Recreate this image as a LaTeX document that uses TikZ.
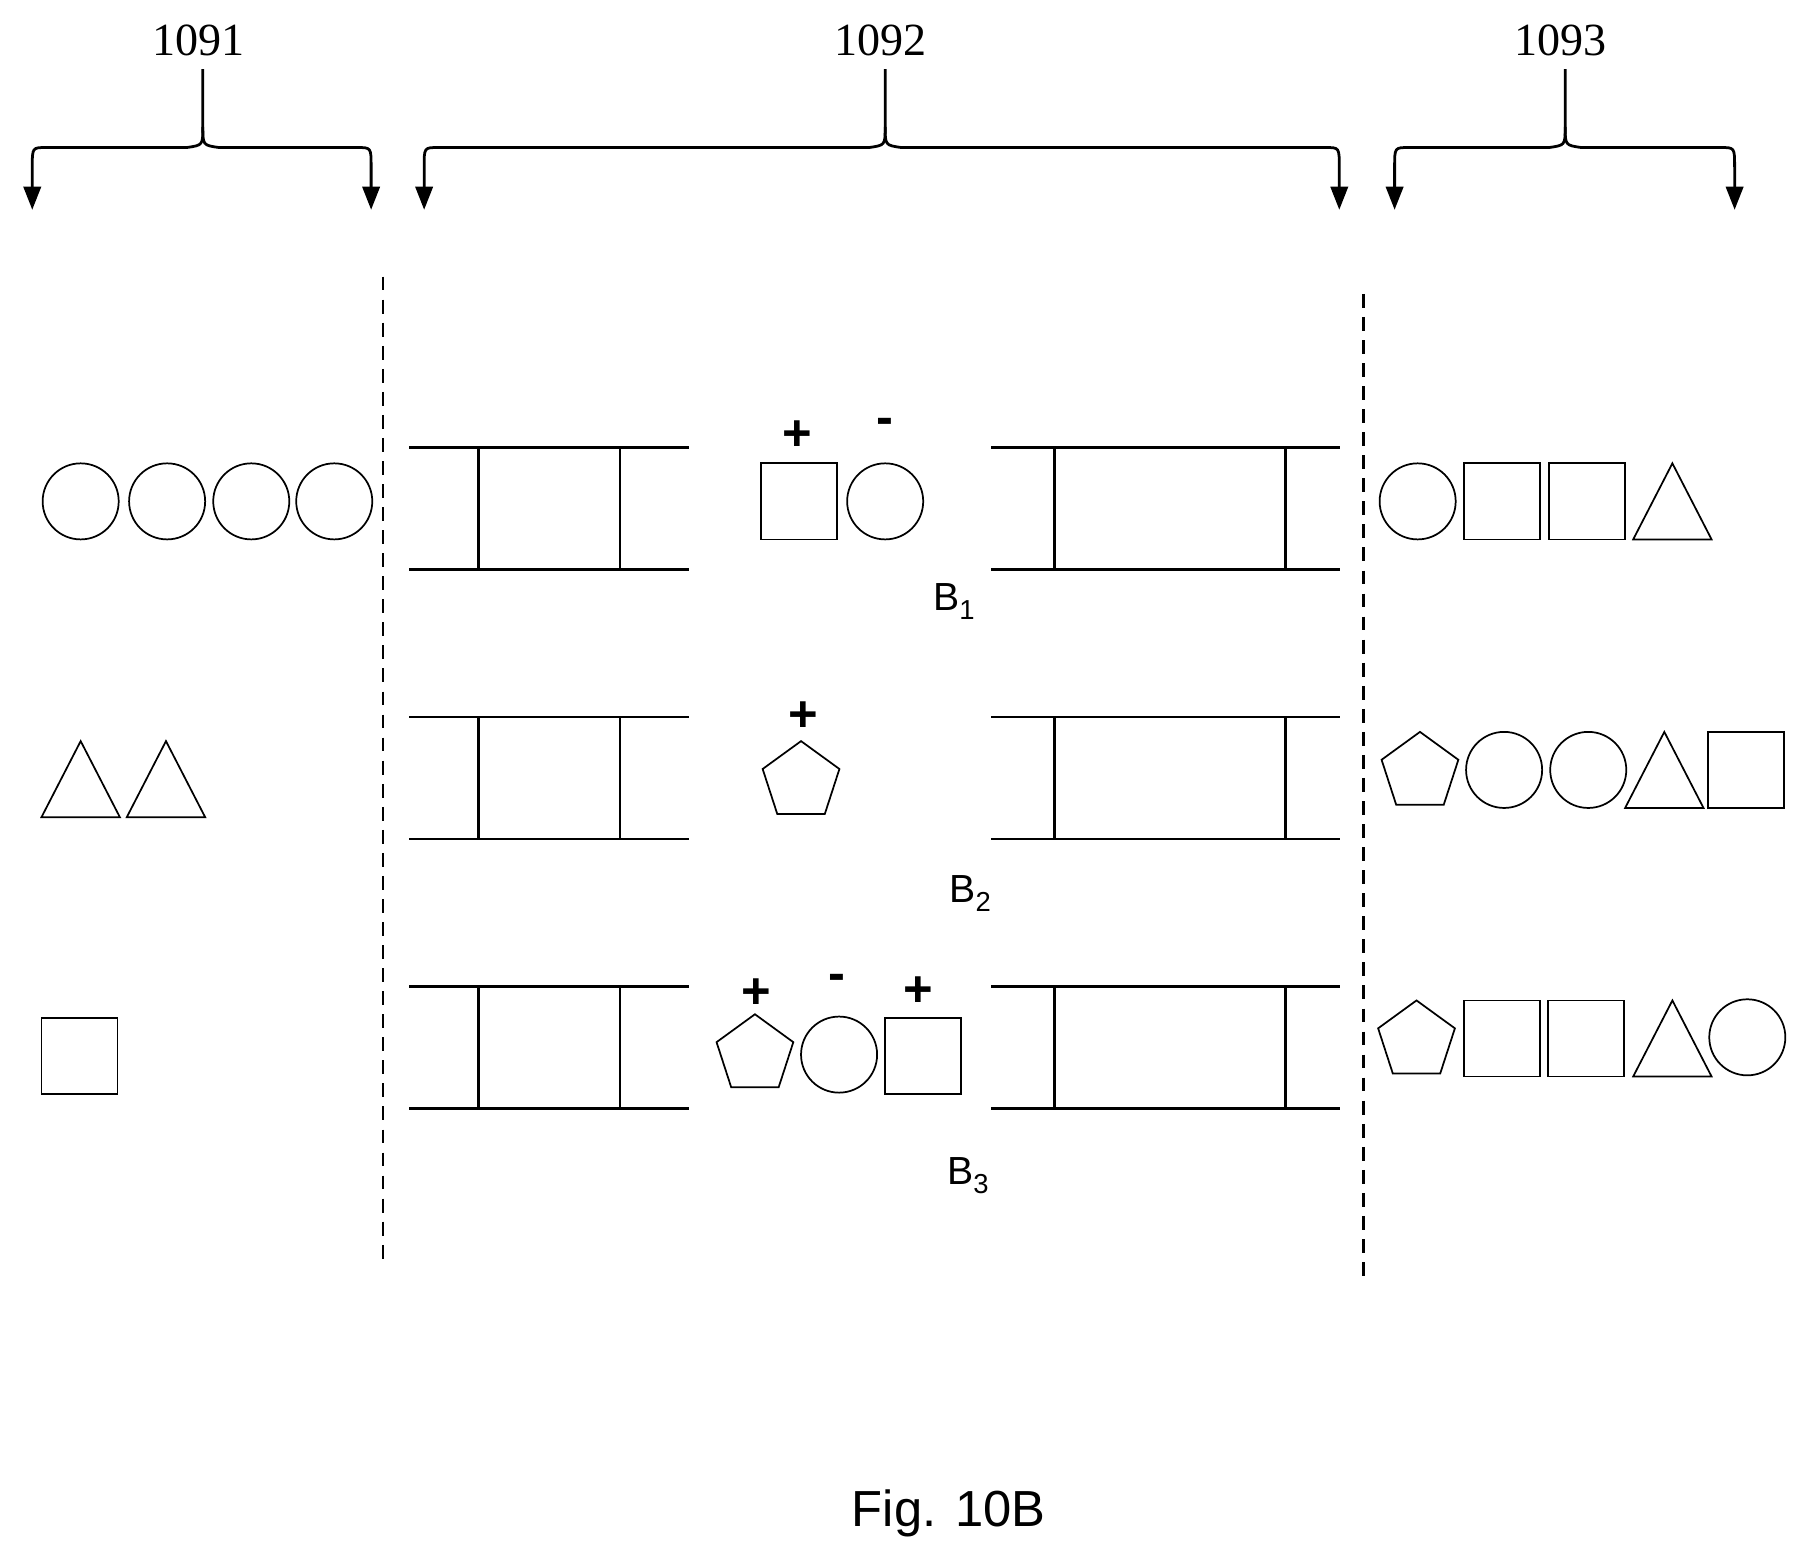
\documentclass[tikz,border=0pt]{standalone}
\usepackage{fontspec}
\setsansfont{Liberation Sans}
\setmainfont{Liberation Serif}
\usetikzlibrary{arrows.meta}
\begin{document}
\begin{tikzpicture}[x=1pt,y=-1pt,
	shp/.style={line width=1.5pt},
	bar/.style={line width=2.4pt},
	brc/.style={line width=2.4pt,-{Triangle[length=20pt,width=15pt]}},
	sgn/.style={font=\sffamily\bfseries\fontsize{44}{44}\selectfont},
	blab/.style={font=\sffamily\fontsize{34}{34}\selectfont},
	circ/.pic={\draw[shp] (0,0) circle (33pt);},
	sq/.pic={\draw[shp] (-33,-33) rectangle (33,33);},
	tri/.pic={\draw[shp] (-34,33) -- (34,33) -- (0,-33) -- cycle;},
	pent/.pic={\draw[shp] (0,-35) -- (-33.3,-10.8) -- (-20.6,28.3) -- (20.6,28.3) -- (33.3,-10.8) -- cycle;}]
	\useasboundingbox (0,0) rectangle (1560,1352);
%	braces
	\foreach \l/\m/\r/\t in {28/176/322/1091, 368/768/1162/1092, 1210/1358/1505/1093}{
		\draw[brc] (\m,60) -- (\m,110) .. controls (\m,126) .. (\m-14,128) -- (\l+12,128) .. controls (\l,128) .. (\l,145) -- (\l,182);
		\draw[brc] (\m,110) .. controls (\m,126) .. (\m+14,128) -- (\r-12,128) .. controls (\r,128) .. (\r,145) -- (\r,182);
		\node[font=\fontsize{40}{40}\selectfont] (lab\t) at (\m-4,35) {\t};
	}
	\draw[line width=2pt,dash pattern=on 12pt off 8pt] (332,240) -- (332,1095);
	\draw[line width=2pt,dash pattern=on 12pt off 8pt] (1183,255) -- (1183,1108);
%	ladders
	\foreach \t in {388,622,856}{
		\draw[bar] (355,\t) -- (598,\t) (355,\t+106) -- (598,\t+106) (415,\t) -- (415,\t+106) (538,\t) -- (538,\t+106);
		\draw[bar] (860,\t) -- (1163,\t) (860,\t+106) -- (1163,\t+106) (915,\t) -- (915,\t+106) (1115,\t) -- (1115,\t+106);
	}
%	left column
	\foreach \x in {70,145,218,290} \pic at (\x,435) {circ};
	\pic at (70,676) {tri};
	\pic at (144,676) {tri};
	\pic at (69,916) {sq};
%	middle
	\pic at (693,435) {sq};
	\pic at (768,435) {circ};
	\node[sgn] (p1) at (692,378) {+};
	\node[sgn] (m1) at (768,370) {-};
	\node[blab] (b1) at (828,522) {B\textsubscript{1}};
	\pic at (695,678) {pent};
	\node[sgn] (p2) at (697,622) {+};
	\node[blab] (b2) at (842,775) {B\textsubscript{2}};
	\pic at (655,915) {pent};
	\pic at (728,915) {circ};
	\pic at (801,916) {sq};
	\node[sgn] (p3) at (656,862) {+};
	\node[sgn] (m3) at (726,852) {-};
	\node[sgn] (q3) at (797,860) {+};
	\node[blab] (b3) at (840,1020) {B\textsubscript{3}};
%	right column
	\pic at (1230,435) {circ};
	\pic at (1303,435) {sq};
	\pic at (1377,435) {sq};
	\pic at (1451,435) {tri};
	\pic at (1232,670) {pent};
	\pic at (1305,668) {circ};
	\pic at (1378,668) {circ};
	\pic at (1444,668) {tri};
	\pic at (1515,668) {sq};
	\pic at (1229,903) {pent};
	\pic at (1303,901) {sq};
	\pic at (1376,901) {sq};
	\pic at (1451,901) {tri};
	\pic at (1516,900) {circ};
	\node[font=\sffamily\fontsize{44}{44}\selectfont] (fig) at (823,1313) {Fig. 10B};
\end{tikzpicture}
\end{document}
